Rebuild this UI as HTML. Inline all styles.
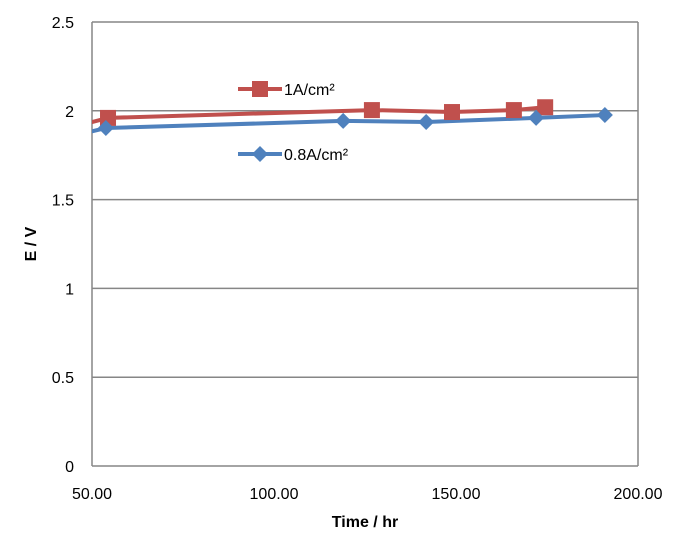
<!DOCTYPE html>
<html><head><meta charset="utf-8"><style>
body{margin:0;background:#fff;font-family:"Liberation Sans",Arial,sans-serif}
</style></head><body>
<svg width="680" height="544" xmlns="http://www.w3.org/2000/svg" font-family="Liberation Sans, Arial, sans-serif">
<defs><clipPath id="plotclip"><rect x="92" y="0" width="546" height="466"/></clipPath></defs>
<g id="grid"></g>
<g id="axes"></g>
<g id="series" clip-path="url(#plotclip)"></g>
<g id="markers"></g>
<g>
 <g>
  <line x1="238" y1="89" x2="282" y2="89" stroke="#c0504d" stroke-width="4"/>
  <rect x="252" y="81" width="16" height="16" fill="#c0504d"/>
  <text x="284" y="95" font-size="16" fill="#000">1A/cm²</text>
 </g>
 <g>
  <line x1="238" y1="154" x2="282" y2="154" stroke="#4f81bd" stroke-width="4"/>
  <polygon points="260,146 268,154 260,162 252,154" fill="#4f81bd"/>
  <text x="284" y="160" font-size="16" fill="#000">0.8A/cm²</text>
 </g>
</g>
<text x="0" y="0" transform="translate(36,244) rotate(-90)" text-anchor="middle" font-size="16" font-weight="bold">E / V</text>
<text x="365" y="527" text-anchor="middle" font-size="16" font-weight="bold">Time / hr</text>
<script>
const xTicks=[50,100,150,200];
const xTickLabels=["50.00","100.00","150.00","200.00"];
const yTicks=[0,0.5,1,1.5,2,2.5];
const yTickLabels=["0","0.5","1","1.5","2","2.5"];
const redX=[45,54.4,126.9,148.9,165.9,174.5];
const redY=[1.91,1.96,2.004,1.993,2.004,2.02];
const blueX=[45,53.8,119,141.8,172,190.9];
const blueY=[1.86,1.903,1.943,1.937,1.96,1.976];
const NS="http://www.w3.org/2000/svg";
const X=v=>92+(v-50)/150*546;
const Y=v=>466-v/2.5*444;
function mk(t,a,p){const e=document.createElementNS(NS,t);for(const k in a)e.setAttribute(k,a[k]);p.appendChild(e);return e;}
const grid=document.getElementById('grid'),axes=document.getElementById('axes'),series=document.getElementById('series'),markers=document.getElementById('markers');
yTicks.forEach((v,i)=>{
 const l=mk('line',{x1:92,x2:638,y1:Y(v),y2:Y(v),stroke:'#868686','stroke-width':1.5},grid);
 
 
 const t=mk('text',{x:74,y:Y(v)+6,'text-anchor':'end','font-size':16},axes);
 t.textContent=yTickLabels[i];
 
 
});
const va=mk('line',{x1:92,x2:92,y1:22,y2:466,stroke:'#868686','stroke-width':1.5},axes);


const vr=mk('line',{x1:638,x2:638,y1:22,y2:466,stroke:'#868686','stroke-width':1.5},axes);


xTicks.forEach((v,i)=>{
 const t=mk('text',{x:X(v),y:499,'text-anchor':'middle','font-size':16},axes);
 t.textContent=xTickLabels[i];
 
 
});
function draw(xs,ys,col,shape,name){
 const p=mk('polyline',{points:xs.map((x,i)=>X(x)+','+Y(ys[i])).join(' '),fill:'none',stroke:col,'stroke-width':4,'stroke-linejoin':'round'},series);
 
 
 xs.forEach((x,i)=>{
  if(x<50)return;
  const cx=X(x),cy=Y(ys[i]);let m;
  if(shape==='sq')m=mk('rect',{x:cx-8,y:cy-8,width:16,height:16,fill:col},markers);
  else m=mk('polygon',{points:`${cx},${cy-8} ${cx+8},${cy} ${cx},${cy+8} ${cx-8},${cy}`,fill:col},markers);
  
  
 });
}
draw(redX,redY,'#c0504d','sq','series-1a');
draw(blueX,blueY,'#4f81bd','dia','series-0-8a');
</script>
</svg>
</body></html>
